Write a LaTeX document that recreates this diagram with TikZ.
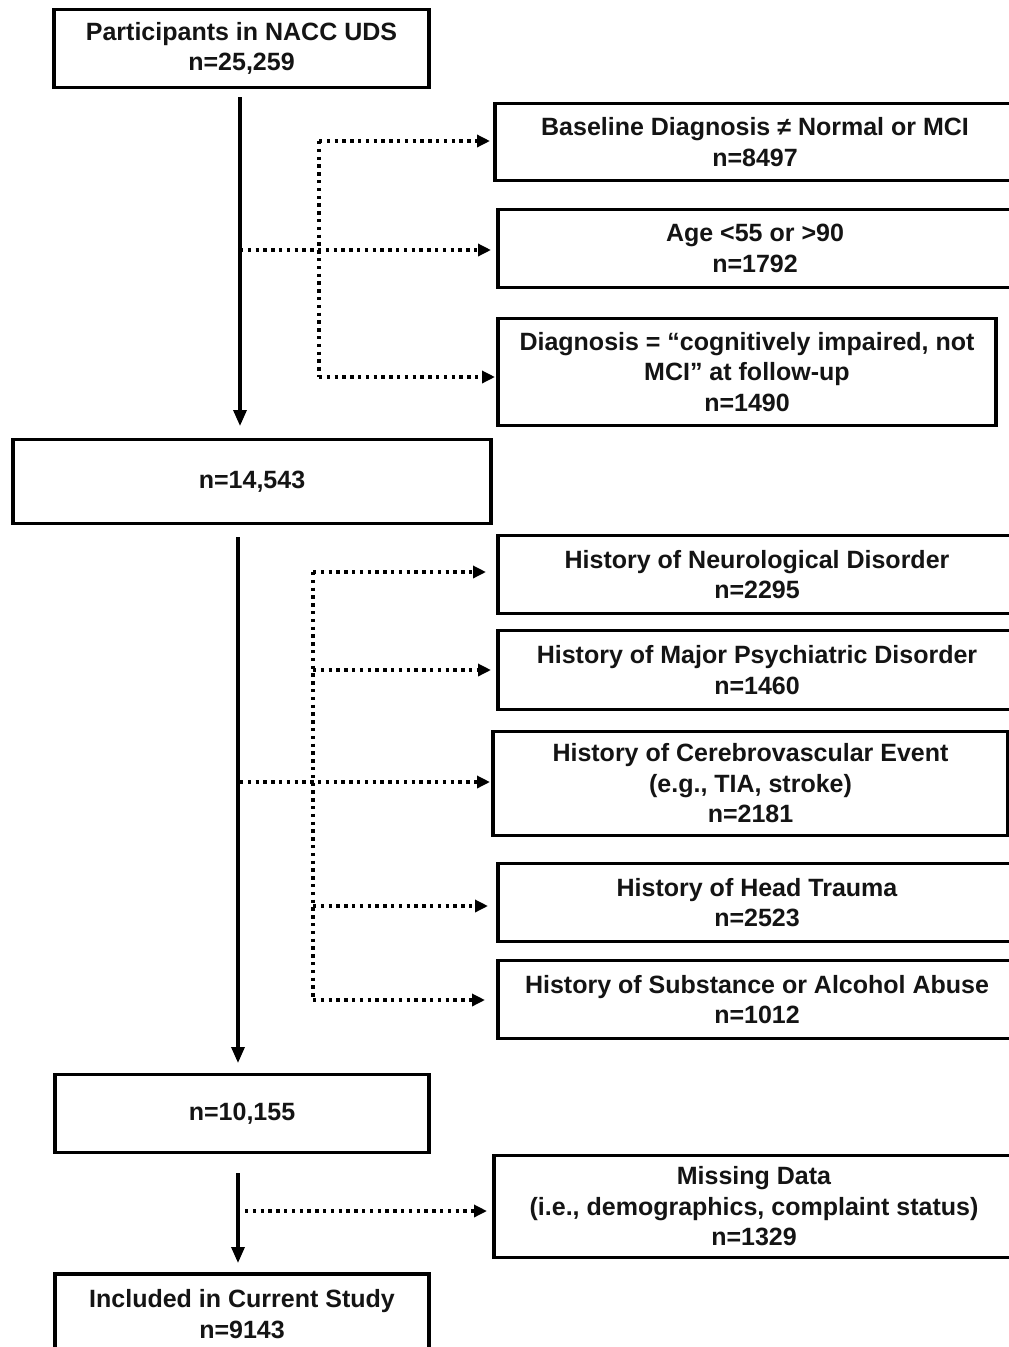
\documentclass[tikz,border=0pt]{standalone}
\usepackage{fontspec}
\setmainfont{Liberation Sans}
\usetikzlibrary{arrows.meta,calc}
\begin{document}
\begin{tikzpicture}[x=1pt,y=-1pt,
  box/.style={draw=black,line width=3.2pt,rectangle,inner sep=0pt,outer sep=0pt,
    align=center,font=\fontsize{25}{30.5}\selectfont\bfseries,text=black!92},
  mainarr/.style={line width=3.3pt,-{Triangle[length=16pt,width=13pt]}},
  dotline/.style={line width=3.6pt,dash pattern=on 3.4pt off 4.4pt},
  dotarr/.style={dotline,-{Triangle[length=13pt,width=12pt]}}
]
\useasboundingbox (0,0) rectangle (1009,1347);
\fill[white] (0,0) rectangle (1009,1347);
\clip (0,0) rectangle (1009,1347);

% main column
\node[box,minimum width=375pt,minimum height=78pt] (b1) at (241.5,48.5) {Participants in NACC UDS\\n=25,259};
\node[box,minimum width=478pt,minimum height=84pt] (b2) at (252,481.5) {n=14,543};
\node[box,minimum width=374pt,minimum height=78pt] (b3) at (242,1113.5) {n=10,155};
\node[box,minimum width=374pt,minimum height=80pt,anchor=north] (b4) at (242,1274) {Included in Current Study\\n=9143};

% right column
\node[box,minimum width=520pt,minimum height=77pt] (r1) at (755,142) {Baseline Diagnosis \char"2260\ Normal or MCI\\n=8497};
\node[box,minimum width=514pt,minimum height=78pt] (r2) at (755,248.5) {Age <55 or >90\\n=1792};
\node[box,minimum width=498pt,minimum height=107pt] (r3) at (747,372) {Diagnosis = “cognitively impaired, not\\MCI” at follow-up\\n=1490};
\node[box,minimum width=518pt,minimum height=78pt] (r4) at (757,574.5) {History of Neurological Disorder\\n=2295};
\node[box,minimum width=518pt,minimum height=79pt] (r5) at (757,670) {History of Major Psychiatric Disorder\\n=1460};
\node[box,minimum width=515pt,minimum height=104pt] (r6) at (750.5,783.5) {History of Cerebrovascular Event\\(e.g., TIA, stroke)\\n=2181};
\node[box,minimum width=518pt,minimum height=78pt] (r7) at (757,902.5) {History of Head Trauma\\n=2523};
\node[box,minimum width=518pt,minimum height=78pt] (r8) at (757,999.5) {History of Substance or Alcohol Abuse\\n=1012};
\node[box,minimum width=520pt,minimum height=102pt] (r9) at (754,1206.5) {Missing Data\\(i.e., demographics, complaint status)\\n=1329};

% main arrows
\draw[mainarr] ($(b1.south)+(-1.5,9.5)$) -- ($(b1.south |- b2.north)+(-1.5,-13.5)$);
\draw[mainarr] ($(b2.south)+(-14,13.5)$) -- ($(b2.south |- b3.north)+(-14,-11.5)$);
\draw[mainarr] ($(b3.south)+(-4,20.5)$) -- ($(b3.south |- b4.north)+(-4,-11)$);

% group 1
\coordinate (j1) at (240,250);
\coordinate (t1) at (319,141);
\coordinate (t3) at (319,377);
\draw[dotline] (t1) -- (t3);
\draw[dotarr,shorten >=5pt] (t1) -- (t1 -| r1.west);
\draw[dotarr,shorten >=7pt] (j1) -- (j1 -| r2.west);
\draw[dotarr,shorten >=3pt] (t3) -- (t3 -| r3.west);

% group 2
\coordinate (j2) at (240,782);
\coordinate (u4) at (313,572);
\coordinate (u5) at (313,670);
\coordinate (u7) at (313,906);
\coordinate (u8) at (313,1000);
\draw[dotline] (u4) -- (u8);
\draw[dotarr,shorten >=12pt] (u4) -- (u4 -| r4.west);
\draw[dotarr,shorten >=7pt] (u5) -- (u5 -| r5.west);
\draw[dotarr,shorten >=3pt] (j2) -- (j2 -| r6.west);
\draw[dotarr,shorten >=10pt] (u7) -- (u7 -| r7.west);
\draw[dotarr,shorten >=13pt] (u8) -- (u8 -| r8.west);

% group 3
\coordinate (j3) at (245,1211);
\draw[dotarr,shorten >=7pt] (j3) -- (j3 -| r9.west);
\end{tikzpicture}
\end{document}
